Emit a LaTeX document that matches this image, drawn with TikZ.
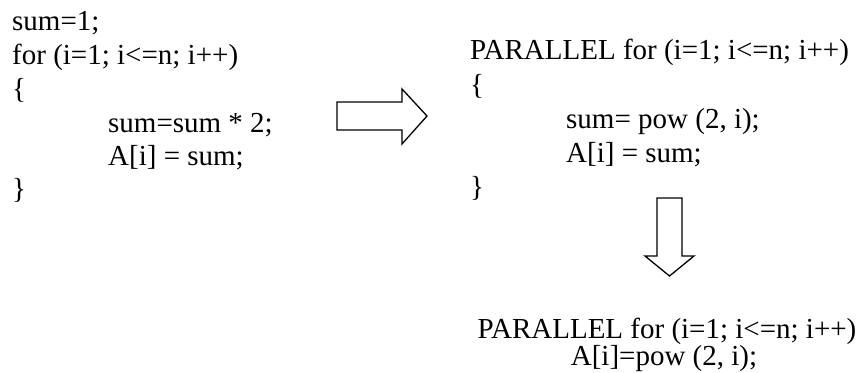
\documentclass[tikz,border=0pt]{standalone}
\usepackage{fontspec}
\setmainfont{Liberation Serif}
\tikzset{
  code/.style={anchor=base west, inner sep=0pt, font=\fontsize{29}{33}\selectfont},
  blockarrow/.style={draw=black, line width=1.3pt, line join=miter, fill=white}
}
\begin{document}
\begin{tikzpicture}[x=1pt, y=-1pt]
	\useasboundingbox (0, 0) rectangle (859, 372);

	% sequential loop
	\node[code] (s1) at (12, 30) {sum=1;};
	\node[code] (s2) at (12, 64) {for (i=1; i<=n; i++)};
	\node[code] (s3) at (12, 98) {\{};
	\node[code] (s4) at (108, 132) {sum=sum * 2;};
	\node[code] (s5) at (108, 165) {A[i] = sum;};
	\node[code] (s6) at (12, 198) {\}};

	% right arrow
	\draw[blockarrow] (337, 102) -- (402, 102) -- (402, 89) -- (427, 116)
		-- (402, 144) -- (402, 130) -- (337, 130) -- cycle;

	% parallel loop
	\node[code] (p1) at (470, 59) {PARALLEL for (i=1; i<=n; i++)};
	\node[code] (p2) at (470, 94) {\{};
	\node[code] (p3) at (566, 128) {sum= pow (2, i);};
	\node[code] (p4) at (566, 162) {A[i] = sum;};
	\node[code] (p5) at (470, 196) {\}};

	% down arrow
	\draw[blockarrow] (657, 198) -- (682, 198) -- (682, 256) -- (694, 256)
		-- (669.5, 276) -- (645, 256) -- (657, 256) -- cycle;

	% merged loop
	\node[code, anchor=base] (m1) at (667, 338) {PARALLEL for (i=1; i<=n; i++)};
	\node[code, anchor=base] (m2) at (664, 365) {A[i]=pow (2, i);};
\end{tikzpicture}
\end{document}
